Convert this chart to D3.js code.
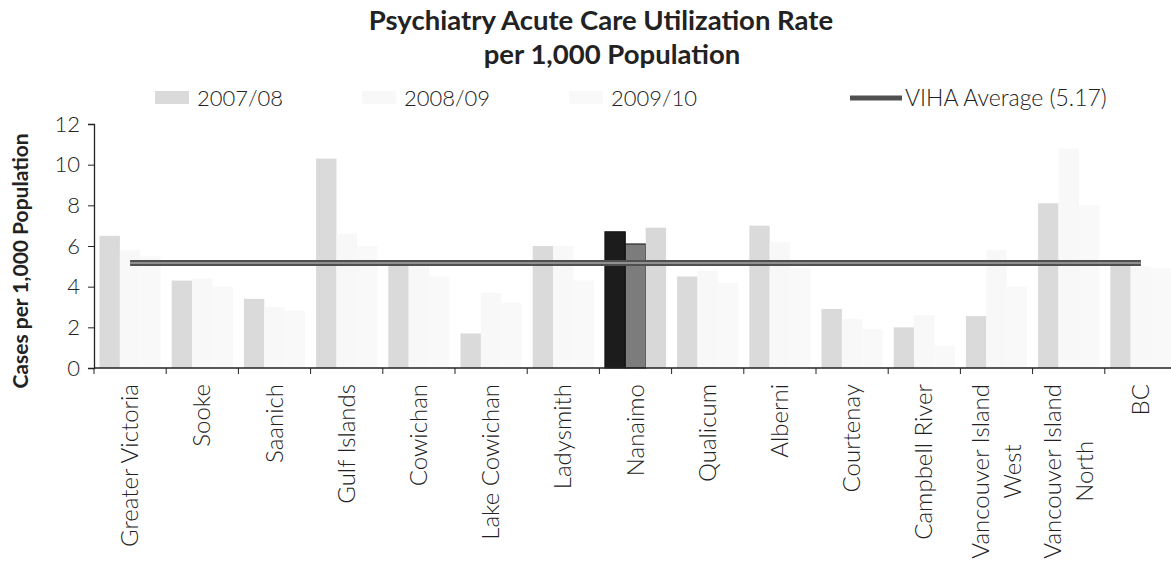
<!DOCTYPE html>
<html>
<head>
<meta charset="utf-8">
<script src="https://cdn.jsdelivr.net/npm/d3@7"></script>
<style>
  body { margin: 0; background: #fff; }
  svg { display: block; font-family: Lato, sans-serif; }
</style>
</head>
<body>
<svg class="chart" width="1171" height="564"></svg>
<script>
// data
const categories = ["Greater Victoria", "Sooke", "Saanich", "Gulf Islands", "Cowichan", "Lake Cowichan",
    "Ladysmith", "Nanaimo", "Qualicum", "Alberni", "Courtenay", "Campbell River",
    "Vancouver Island\nWest", "Vancouver Island\nNorth", "BC"]
const seriesNames = ["2007/08", "2008/09", "2009/10"]
const values0708 = [6.5, 4.3, 3.4, 10.3, 5.3, 1.7, 6.0, 6.7, 4.5, 7.0, 2.9, 2.0, 2.55, 8.1, 5.1]
const values0809 = [5.8, 4.4, 3.0, 6.6, 5.0, 3.7, 6.0, 6.1, 4.8, 6.2, 2.4, 2.6, 5.8, 10.8, 5.0]
const values0910 = [5.5, 4.0, 2.8, 6.0, 4.5, 3.2, 4.3, 6.9, 4.2, 4.9, 1.9, 1.1, 4.0, 8.0, 4.9]
const vihaAverage = 5.17
const yTicks = [0, 2, 4, 6, 8, 10, 12]

const highlight = "Nanaimo"
const seriesColors = ["#dadada", "#f8f8f8", "#f9f9f9"]
const highlightColors = ["#1c1c1c", "#7c7c7c", "#d8d8d8"]

const svg = d3.select(".chart")

const plotLeft = 94, plotBottom = 368, plotTop = 124
const catWidth = 72.2

const x0 = d3.scaleBand()
    .domain(categories)
    .range([plotLeft, plotLeft + catWidth * categories.length])
    .padding(0)

const x1 = d3.scaleBand()
    .domain(seriesNames)
    .range([5.5, catWidth - 5.5])
    .padding(0)

const y = d3.scaleLinear()
    .domain([0, 12])
    .range([plotBottom, plotTop])

const rows = categories.map((c, i) => ({
    name: c,
    vals: [values0708[i], values0809[i], values0910[i]]
}))

// title
svg.append("text")
    .attr("x", 601).attr("y", 30)
    .attr("text-anchor", "middle")
    .style("font-size", "27.5px").style("font-weight", "bold").style("fill", "#222")
    .text("Psychiatry Acute Care Utilization Rate")
svg.append("text")
    .attr("x", 612).attr("y", 64)
    .attr("text-anchor", "middle")
    .style("font-size", "27.5px").style("font-weight", "bold").style("fill", "#222")
    .text("per 1,000 Population")

// bars
const groups = svg.selectAll("g.cat")
    .data(rows)
    .enter()
    .append("g")
    .attr("class", "cat")
    .attr("transform", d => "translate(" + x0(d.name) + ",0)")

groups.selectAll("rect")
    .data(d => d.vals.map((v, j) => ({ cat: d.name, s: seriesNames[j], j: j, v: v })))
    .enter()
    .append("rect")
    .attr("x", d => x1(d.s))
    .attr("y", d => y(d.v))
    .attr("width", x1.bandwidth())
    .attr("height", d => plotBottom - y(d.v))
    .style("fill", d => d.cat === highlight ? highlightColors[d.j] : seriesColors[d.j])
    .style("stroke", d => d.cat === highlight && d.j < 2 ? "#111" : "none")
    .style("stroke-width", 1)

// average line across category centres
const avgLine = d3.line()
    .x(d => x0(d) + catWidth / 2)
    .y(() => y(vihaAverage))

svg.append("path")
    .datum([categories[0], categories[categories.length - 1]])
    .attr("d", avgLine)
    .style("fill", "none").style("stroke", "#505050").style("stroke-width", 6)
svg.append("path")
    .datum([categories[0], categories[categories.length - 1]])
    .attr("d", avgLine)
    .style("fill", "none").style("stroke", "#909090").style("stroke-width", 2)

// y axis
const yAxis = svg.append("g")
    .attr("transform", "translate(" + plotLeft + ",0)")
    .call(d3.axisLeft(y).tickValues(yTicks).tickSize(6).tickPadding(8).tickFormat(d3.format("d")))
yAxis.select(".domain").style("stroke", "#222").style("stroke-width", 1.3)
yAxis.selectAll(".tick line").style("stroke", "#222")
yAxis.selectAll("text").style("font-size", "22px").style("fill", "#222")
    .style("font-family", "Lato").style("font-weight", 300)

// x axis - ticks on category boundaries
svg.append("line")
    .attr("x1", plotLeft).attr("x2", 1171)
    .attr("y1", plotBottom).attr("y2", plotBottom)
    .style("stroke", "#222").style("stroke-width", 1.5)

svg.selectAll("line.xtick")
    .data(categories)
    .enter()
    .append("line")
    .attr("class", "xtick")
    .attr("x1", d => x0(d)).attr("x2", d => x0(d))
    .attr("y1", plotBottom).attr("y2", plotBottom + 6)
    .style("stroke", "#222")

// category labels, rotated
const labels = svg.selectAll("g.xlab")
    .data(categories)
    .enter()
    .append("g")
    .attr("class", "xlab")
    .attr("transform", d => "translate(" + (x0(d) + catWidth / 2) + "," + (plotBottom + 16) + ") rotate(-90)")

labels.each(function(d) {
    const lines = d.split("\n")
    const lh = 32
    const start = -(lines.length - 1) * lh / 2
    const t = d3.select(this).append("text")
        .attr("text-anchor", "end")
        .style("font-size", "24px").style("fill", "#222").style("font-weight", 300)
    lines.forEach((ln, k) => {
        t.append("tspan")
            .attr("x", 0)
            .attr("y", start + k * lh + 8)
            .attr("text-anchor", lines.length > 1 ? "middle" : "end")
            .text(ln)
    })
    if (lines.length > 1) {
        // centre the lines on each other like excel does
        const w = d3.max(t.selectAll("tspan").nodes(), n => n.getComputedTextLength())
        t.selectAll("tspan").attr("x", -w / 2)
    }
})

// y title
svg.append("text")
    .attr("transform", "translate(28," + 261 + ") rotate(-90)")
    .attr("text-anchor", "middle")
    .style("font-size", "21px").style("font-weight", "bold").style("fill", "#222")
    .text("Cases per 1,000 Population")

// legend
const legendX = [155, 362, 569]
const leg = svg.selectAll("g.leg")
    .data(seriesNames)
    .enter()
    .append("g")
    .attr("class", "leg")
    .attr("transform", (d, i) => "translate(" + legendX[i] + ",98)")

leg.append("rect")
    .attr("x", 0).attr("y", -7)
    .attr("width", 34).attr("height", 13)
    .style("fill", (d, i) => seriesColors[i])

leg.append("text")
    .attr("x", 42).attr("y", 8)
    .style("font-size", "22px").style("fill", "#222").style("font-weight", 300)
    .text(d => d)

svg.append("line")
    .attr("x1", 850).attr("x2", 902)
    .attr("y1", 98).attr("y2", 98)
    .style("stroke", "#505050").style("stroke-width", 5)
svg.append("text")
    .attr("x", 905).attr("y", 106)
    .style("font-size", "23px").style("fill", "#222").style("font-weight", 300)
    .text("VIHA Average (" + vihaAverage + ")")
</script>
</body>
</html>
